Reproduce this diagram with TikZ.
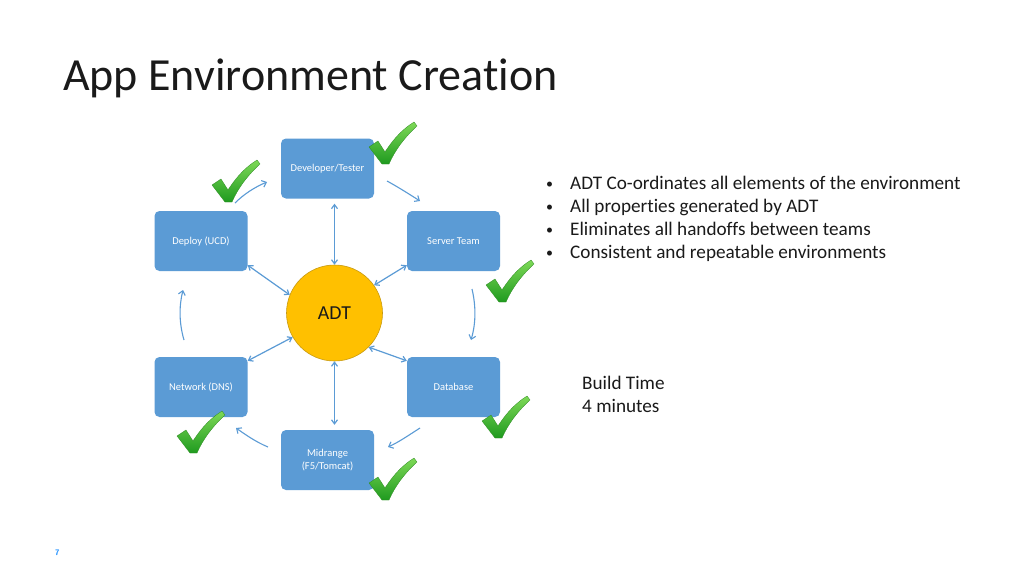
\documentclass[tikz,border=0pt]{standalone}
\usepackage{fontspec}
\setmainfont[Ligatures={NoCommon}]{Carlito}
\usetikzlibrary{arrows.meta,calc}
\definecolor{boxblue}{HTML}{5B9BD5}
\definecolor{arrblue}{HTML}{5B9BD5}
\definecolor{adtfill}{HTML}{FFC000}
\definecolor{adtline}{HTML}{C89A10}
\definecolor{chktop}{HTML}{7ED957}
\definecolor{chkbot}{HTML}{1F9A1F}
\definecolor{chkline}{HTML}{2E8B22}
\definecolor{numblue}{HTML}{1E90FF}
\definecolor{txt}{HTML}{1A1A1A}
\tikzset{
  teambox/.style={fill=boxblue, rounded corners=5pt, minimum width=93pt, minimum height=60pt, text=white, font=\fontsize{10.5}{12.5}\selectfont, align=center, inner sep=2pt},
  link/.style={draw=arrblue, line width=1.2pt, {Straight Barb[length=4pt,width=6pt]}-{Straight Barb[length=4pt,width=6pt]}},
  flow/.style={draw=arrblue, line width=1.1pt, -{Straight Barb[length=4pt,width=7pt]}},
  bullettext/.style={anchor=base west, inner sep=0pt, text=txt, font=\fontsize{19.2}{23}\selectfont},
  check/.pic={
    \shade[top color=chktop, bottom color=chkbot, draw=chkline, line width=0.3pt, line join=round]
      (-16,-17) -- (-7,-23) -- (0,-12)
      .. controls (9,-26) and (18,-35) .. (29,-42)
      -- (32,-38)
      .. controls (20,-27) and (10,-14) .. (4,0)
      -- (-3,0) -- cycle;
  }
}
\begin{document}
\begin{tikzpicture}[x=1pt,y=-1pt]
\useasboundingbox[fill=white] (0,0) rectangle (1024,576);

% title
\node[anchor=base west, inner sep=0pt, text=txt, font=\fontsize{46}{54}\selectfont] (title) at (63,90) {App Environment Creation};

% nodes
\node[teambox] (dev) at (327.5,168.5) {Developer/Tester};
\node[teambox] (deploy) at (201,241) {Deploy (UCD)};
\node[teambox] (server) at (453.5,241) {Server Team};
\node[teambox] (network) at (201,387) {Network (DNS)};
\node[teambox] (db) at (453.5,387) {Database};
\node[teambox] (mid) at (327.5,460) {Midrange\\(F5/Tomcat)};
\node[circle, fill=adtfill, draw=adtline, line width=0.6pt, minimum size=96pt, inner sep=0pt, font=\fontsize{19.8}{22}\selectfont, text=txt] (adt) at (334.5,313) {ADT};

% links to ADT
\draw[link] (adt.north) -- (adt.north |- {$(dev.south)+(0,5)$});
\draw[link] (adt.south) -- (adt.south |- {$(mid.north)+(0,-5)$});
\draw[link] (adt.158) -- ($(deploy.south east)+(0,-6)$);
\draw[link] (adt.35) -- ($(server.south west)+(0,-6)$);
\draw[link] (adt.210) -- ($(network.north east)+(0,4)$);
\draw[link] (adt.-45) -- ($(db.north west)+(0,4)$);

% cycle arrows
\coordinate (c1a) at (235,203); \coordinate (c1b) at (267,182);
\coordinate (c2a) at (387,181); \coordinate (c2b) at (420,201);
\coordinate (c3a) at (472,289); \coordinate (c3b) at (471,340);
\coordinate (c4a) at (420,428); \coordinate (c4b) at (388,447);
\coordinate (c5a) at (268,447); \coordinate (c5b) at (236,428);
\coordinate (c6a) at (184,340); \coordinate (c6b) at (183,290);
\draw[flow] (c1a) .. controls (244,194) and (255,187) .. (c1b);
\draw[flow] (c2a) .. controls (398,187) and (409,194) .. (c2b);
\draw[flow] (c3a) .. controls (476,306) and (476,323) .. (c3b);
\draw[flow] (c4a) .. controls (409,435) and (399,442) .. (c4b);
\draw[flow] (c5a) .. controls (256,442) and (246,435) .. (c5b);
\draw[flow] (c6a) .. controls (179,323) and (179,306) .. (c6b);

% check marks
\pic at (228,202) {check};
\pic at (385,164) {check};
\pic at (502,302) {check};
\pic at (498,438) {check};
\pic at (193,453) {check};
\pic at (385,500) {check};

% bullets
\foreach \y/\t [count=\i] in {189/{ADT Co-ordinates all elements of the environment},212/{All properties generated by ADT},235/{Eliminates all handoffs between teams},258/{Consistent and repeatable environments}}{
  \node[bullettext, font=\fontsize{14}{16}\selectfont] (b\i) at (546,\y-1) {•};
  \node[bullettext] (t\i) at (570,\y) {\t};
}

\node[bullettext] (bt1) at (582,389) {Build Time};
\node[bullettext] (bt2) at (582,412) {4 minutes};

\node[anchor=base west, inner sep=0pt, text=numblue, font=\sffamily\bfseries\fontsize{8}{9}\selectfont] (pg) at (55,555) {7};
\end{tikzpicture}
\end{document}
